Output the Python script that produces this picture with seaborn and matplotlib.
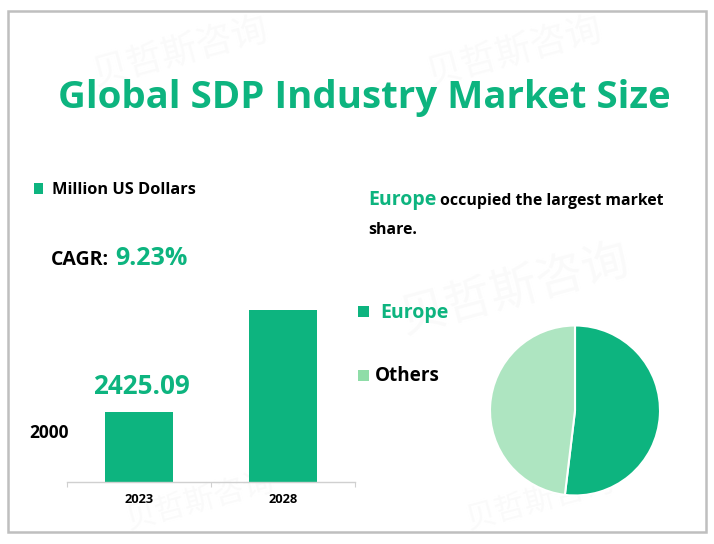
import matplotlib
matplotlib.use("Agg")
import matplotlib.pyplot as plt
from matplotlib.patches import Rectangle
import pandas as pd
import seaborn as sns

years = ["2023", "2028"]
market_size = [2425.09, 3771.0]
regions = ["Europe", "Others"]
shares = [51.9, 48.1]
GREEN = "#0DB47F"
LIGHT = "#AEE5C1"

sns.set_theme(style="white")
plt.rcParams["font.family"] = ["Open Sans", "DejaVu Sans"]

W, H = 714, 544
fig = plt.figure(figsize=(W / 100, H / 100), dpi=100, facecolor="white")


def fx(x):
    return x / W


def fy(y):
    return 1 - y / H


def label(x, y, s, size, color="black", weight="bold", ha="left", **kw):
    fig.text(fx(x), fy(y), s, fontsize=size, color=color, fontweight=weight,
             ha=ha, va="baseline", **kw)


def square(x0, y0, x1, y1, color):
    fig.add_artist(Rectangle((fx(x0), fy(y1)), (x1 - x0) / W, (y1 - y0) / H,
                             transform=fig.transFigure, color=color, lw=0))


# Watermarks, kept behind every axes and inside the picture
for cx, cy, fs in [(181, 52, 26), (515, 52, 26), (515, 290, 34), (200, 502, 22), (540, 502, 22)]:
    fig.text(fx(cx), fy(cy), "贝哲斯咨询", fontsize=fs, color="#FAFAFA", rotation=15,
             ha="center", va="center", family=["Noto Sans CJK SC", "DejaVu Sans"], zorder=-5)

# Frame
fig.add_artist(Rectangle((fx(8), fy(532)), 698 / W, 521 / H, transform=fig.transFigure,
                         fill=False, edgecolor="#BFBFBF", lw=1.8))

# Bars
top_px, base_px, left_px, right_px = 300, 482, 67, 355
ax = fig.add_axes([fx(left_px), fy(base_px), (right_px - left_px) / W, (base_px - top_px) / H])
ax.patch.set_alpha(0)
df = pd.DataFrame({"year": years, "size": market_size})
sns.barplot(data=df, x="year", y="size", color=GREEN, saturation=1, width=0.475, linewidth=0, ax=ax)
ax.set_xlim(-0.5, 1.5)
ax.set_ylim(1501, 1501 + 182 * 13.2)
ax.set_xlabel("")
ax.set_ylabel("")
ax.set_yticks([])
sns.despine(ax=ax, left=True)
ax.spines["bottom"].set_color("#D0D0D0")
ax.spines["bottom"].set_linewidth(1)
ax.set_xticks([-0.5, 0.5, 1.5], minor=True)
ax.tick_params(axis="x", which="minor", bottom=True, length=3.5, color="#D0D0D0", width=0.8)
ax.tick_params(axis="x", which="major", length=0, pad=8, labelsize=9.3)
for t in ax.get_xticklabels():
    t.set_fontweight("bold")
    t.set_color("black")

# Pie
r = 85
cx, cy = 575, 410.5
pax = fig.add_axes([fx(cx - r), fy(cy + r), 2 * r / W, 2 * r / H])
pax.pie(shares, colors=[GREEN, LIGHT], startangle=90, counterclock=False, radius=1,
        wedgeprops={"edgecolor": "white", "linewidth": 1.5})
pax.set_xlim(-1, 1)
pax.set_ylim(-1, 1)

# Texts
label(364, 108, "Global SDP Industry Market Size", 27.6, color=GREEN, ha="center")
square(34, 183, 43, 194, GREEN)
label(52, 194, "Million US Dollars", 11.8)
label(51, 265, "CAGR:", 14)
label(115, 265, "9.23%", 18, color=GREEN)
label(141.5, 394, f"{market_size[0]:.2f}", 18.7, color=GREEN, ha="center")
label(29, 438, "2000", 12.5)
label(368, 205, regions[0], 14, color=GREEN)
label(440, 205, "occupied the largest market", 11.4)
label(368, 234, "share.", 11.4)
square(358, 306, 369, 317, GREEN)
label(380, 318, regions[0], 14, color=GREEN)
square(358, 370, 369, 381, "#8FDDA8")
label(375, 381, regions[1], 13.6)

fig.savefig("out.png", dpi=100, facecolor="white")
